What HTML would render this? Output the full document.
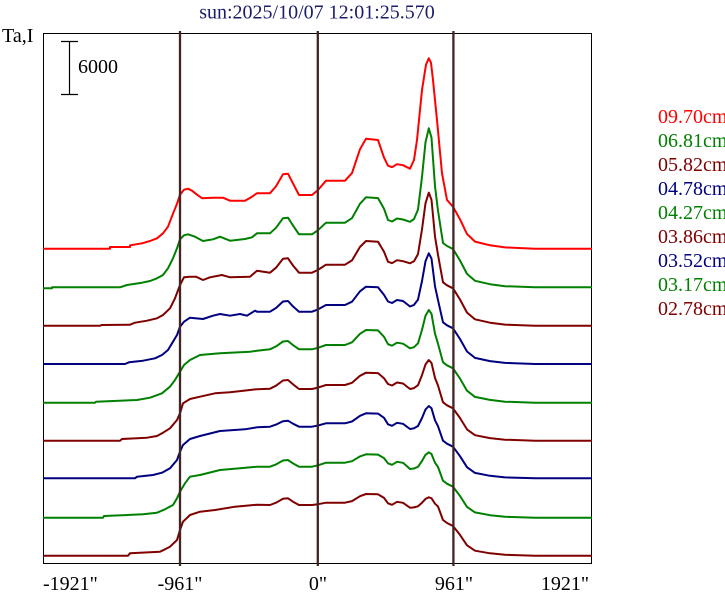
<!DOCTYPE html>
<html>
<head>
<meta charset="utf-8">
<style>
html,body{margin:0;padding:0;background:#ffffff;}
svg{display:block;}
text{font-family:"Liberation Serif","DejaVu Serif",serif;font-size:20px;}
</style>
</head>
<body>
<svg id="chart" xmlns="http://www.w3.org/2000/svg" width="725" height="595" viewBox="0 0 725 595">
<rect x="0" y="0" width="725" height="595" fill="#ffffff"/>
<text x="317" y="18.5" text-anchor="middle" fill="#1c1c6c">sun:2025/10/07 12:01:25.570</text>
<text x="2" y="42" fill="#000">Ta,I</text>
<rect x="43.5" y="33.5" width="548" height="530" fill="none" stroke="#000" stroke-width="1"/>
<g stroke="#000" stroke-width="1.2">
<line x1="69.5" y1="41.5" x2="69.5" y2="94.5"/>
<line x1="61" y1="41.5" x2="78" y2="41.5"/>
<line x1="61" y1="94.5" x2="78" y2="94.5"/>
</g>
<text x="78" y="73" fill="#000">6000</text>
<g id="curves" fill="none" stroke-width="2" stroke-linejoin="round"></g>
<g stroke="#432424" stroke-width="2.3">
<line x1="180" y1="31" x2="180" y2="566"/>
<line x1="317.8" y1="31" x2="317.8" y2="566"/>
<line x1="453.4" y1="31" x2="453.4" y2="566"/>
</g>
<g fill="#000">
<text x="43" y="590">-1921"</text>
<text x="180" y="590" text-anchor="middle">-961"</text>
<text x="318" y="590" text-anchor="middle">0"</text>
<text x="454" y="590" text-anchor="middle">961"</text>
<text x="589" y="590" text-anchor="end">1921"</text>
</g>
<g>
<text x="658" y="123" fill="#ff0000">09.70cm</text>
<text x="658" y="147" fill="#008000">06.81cm</text>
<text x="658" y="171" fill="#800000">05.82cm</text>
<text x="658" y="195" fill="#000080">04.78cm</text>
<text x="658" y="219" fill="#008000">04.27cm</text>
<text x="658" y="243" fill="#800000">03.86cm</text>
<text x="658" y="267" fill="#000080">03.52cm</text>
<text x="658" y="291" fill="#008000">03.17cm</text>
<text x="658" y="315" fill="#800000">02.78cm</text>
</g>
</svg>
<script>
(function(){
var curves=[
 {b:248.7,c:'#ff0000',limb:[[43,0],[110,0],[110,1.7],[130,1.7],[130,3.4],[142,5.4],[150,7.7],[157,10.4],[163,15.4],[168,22],[173,35],[177,45],[180,54],[184,59],[188,60],[192,58],[197,54],[202,50.5],[213,51],[223,51],[230,48],[245,48],[252,52],[257,55.5]],
  L:55.5,B1:75,Lp:53.7,L330:68,B2:110,a:83,d:80,P:190.4,S:42,
  peakL:[[414,88.7],[417,108.7],[422,158.7],[426,184]],
  peakR:[[431,186],[433,168.7],[437,128.7],[442,75.4],[447,48.7]]},
 {b:287.3,c:'#008000',limb:[[43,-1],[52,-1],[52,0],[120,0],[127,2.3],[142,4.6],[150,6.3],[157,9],[163,12.3],[168,19],[173,29],[177,39],[180,48],[184,52],[188,53],[195,50.6],[203,46.3],[213,48],[220,50.6],[230,46.6],[245,48.3],[252,50],[257,54]],
  L:54,B1:69.6,Lp:53,L330:64.6,B2:90,a:67.3,d:65.5,P:159,S:38.3},
 {b:325.7,c:'#800000',limb:[[43,0],[100,0],[102,0.7],[130,1],[135,3],[147,5],[157,7.4],[163,10.7],[170,17.4],[175,27.4],[180,40.7],[184,48.4],[190,49],[196,49],[203,45.7],[210,48.4],[222,50.7],[230,48.4],[250,49],[257,55]],
  L:53,B1:67.4,Lp:53,L330:61,B2:84.7,a:64,d:62.4,P:133,S:37.4},
 {b:364,c:'#000080',limb:[[43,0],[125,0],[129,1.7],[143,3.3],[155,5.7],[162,9],[168,14],[173,22.3],[177,29],[180,37.3],[184,42.3],[190,46.3],[203,45],[213,48.3],[220,50],[230,48.3],[240,50],[247,48.3],[255,53.3],[257,52.3]],
  L:52.3,B1:63,Lp:52.3,L330:59,B2:77.3,a:62.5,d:57.5,P:110.7,S:35.7},
 {b:402.7,c:'#008000',limb:[[43,0],[95,0],[96,1],[137,2.7],[150,5],[162,9.4],[170,16],[175,22.7],[180,31],[184,37.7],[190,42.7],[200,47.7],[220,49.4],[250,51],[257,52]],
  L:53.4,B1:61.7,Lp:53.4,L330:57.7,B2:72.7,a:58.5,d:54.4,P:92.7,S:34.4},
 {b:440.7,c:'#800000',limb:[[43,0],[120,0],[122,1.7],[147,3],[157,4.7],[163,8],[170,12.4],[177,20.7],[180,27.4],[183,37.4],[190,41.7],[200,44],[215,47.4],[230,48.4],[250,50.7],[257,51.5]],
  L:52,B1:60.7,Lp:51.7,L330:55.7,B2:68,a:56.7,d:51.7,P:80.7,S:32.4},
 {b:478.3,c:'#000080',limb:[[43,0],[135,0],[137,1.6],[153,3.3],[162,5.6],[170,10],[177,18.3],[180,26.6],[183,33.3],[190,39.3],[200,42.3],[220,47.3],[245,49],[257,51]],
  L:51.6,B1:57.6,Lp:51.6,L330:55,B2:65,a:54,d:49.3,P:72.3,S:31.6},
 {b:517.7,c:'#008000',limb:[[43,0],[103,0],[104,1.7],[143,3.4],[157,5],[165,8.4],[173,12.7],[177,19.4],[180,26],[185,34.4],[190,41],[200,42.7],[220,47.7],[240,49.4],[257,51]],
  L:51,B1:57.7,Lp:51,L330:55,B2:63.4,a:54.4,d:48.7,P:65.4,S:31},
 {b:555.7,c:'#800000',limb:[[43,0],[128,0],[130,2.4],[150,3.4],[160,4],[165,6.4],[170,9],[177,15.7],[180,25.7],[183,34],[190,40.7],[200,44],[215,45.7],[235,49],[257,51]],
  L:50.7,B1:57.4,Lp:50.7,L330:53,B2:61.7,a:52.4,d:48,P:58.4,S:29.7}
];
function tail(p){
 var L=p.L,B1=p.B1,Lp=p.Lp,L3=p.L330,B2=p.B2,a=p.a,d=p.d,P=p.P,S=p.S;
 var pts=[[270,L],[276,L+0.35*(B1-L)],[283,B1-0.5],[288,B1],[293,L+0.5*(B1-L)],[299,Lp],[312,Lp],
  [318,Lp+0.35*(L3-Lp)],[326,L3],[345,L3],[352,L3+0.18*(B2-L3)],[360,L3+0.75*(B2-L3)],[366,B2],
  [378,B2-0.03*(B2-L3)],[384,L3+0.55*(B2-L3)],[388,a],[392,a-1.5],[397,a+1.5],[403,a+0.5],[410,d]];
 if(p.peakL){pts=pts.concat(p.peakL);}
 else{pts.push([414,d+0.03*(P-d)],[418,d+0.13*(P-d)],[422,d+0.48*(P-d)],[425.5,d+0.85*(P-d)]);}
 pts.push([428.8,P]);
 if(p.peakR){pts=pts.concat(p.peakR);}
 else{pts.push([431.5,d+0.9*(P-d)],[435,Math.max(S+16,d+0.38*(P-d))],[438,Math.max(S+11,d+0.12*(P-d))],[443,S+6],[447,S+3]);}
 pts.push([453,S],[460,S*0.7],[467,S*0.35],[475,S*0.17],[490,S*0.08],[505,S*0.03],[535,0],[592,0]);
 return pts;
}
var g=document.getElementById('curves');
var ns='http://www.w3.org/2000/svg';
curves.forEach(function(cv){
 var pts=cv.limb.concat(tail(cv));
 var d='';
 pts.forEach(function(pt,i){
  d+=(i?'L':'M')+pt[0].toFixed(1)+' '+(cv.b-pt[1]).toFixed(1)+' ';
 });
 var path=document.createElementNS(ns,'path');
 path.setAttribute('d',d);
 path.setAttribute('stroke',cv.c);
 g.appendChild(path);
});
})();
</script>
</body>
</html>
